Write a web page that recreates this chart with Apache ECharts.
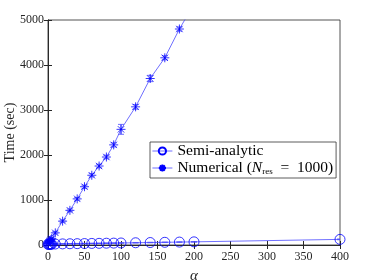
<!DOCTYPE html>
<html><head><meta charset="utf-8">
<script src="https://cdn.jsdelivr.net/npm/echarts@6/dist/echarts.min.js"></script>
<style>html,body{margin:0;padding:0;background:#fff}#c{width:374px;height:280px}</style>
</head><body><div id="c"></div>
<script>
const semiX = [0,1,2,3,4,5,10,20,30,40,50,60,70,80,90,100,120,140,160,180,200,400];
const semiY = [15,15,16,17,18,19,22,25,28,30,32,35,37,40,42,45,50,55,60,65,70,125];
const semiErr = [5,5,5,5,5,5,5,5,5,5,5,5,5,5,5,5,6,6,6,6,6,8];
const numX = [0,1,2,3,4,5,10,20,30,40,50,60,70,80,90,100,120,140,160,180,200];
const numY = [30,55,80,100,120,140,270,530,770,1025,1295,1550,1755,1955,2225,2570,3070,3700,4160,4800,5350];
const numErr = [15,15,15,15,15,20,25,25,30,30,35,35,40,40,45,110,50,70,45,45,50];
const xTicks = [0,50,100,150,200,250,300,350,400];
const yTicks = [0,1000,2000,3000,4000,5000];

const blue = '#0000ff';
const lineBlue = '#4a4aff';
const font = 'Liberation Serif';
const star = 'path://M0,-1L0,1M-1,0L1,0M-0.71,-0.71L0.71,0.71M-0.71,0.71L0.71,-0.71';

function errRender(params, api) {
  const x = api.value(0), y = api.value(1), e = api.value(2);
  const lo = api.coord([x, y - e]), hi = api.coord([x, y + e]);
  const w = 3;
  const st = {stroke: lineBlue, lineWidth: 0.8};
  return {type: 'group', children: [
    {type: 'line', shape: {x1: lo[0], y1: lo[1], x2: hi[0], y2: hi[1]}, style: st},
    {type: 'line', shape: {x1: lo[0]-w, y1: lo[1], x2: lo[0]+w, y2: lo[1]}, style: st},
    {type: 'line', shape: {x1: hi[0]-w, y1: hi[1], x2: hi[0]+w, y2: hi[1]}, style: st}
  ]};
}

const chart = echarts.init(document.getElementById('c'), null, {renderer: 'canvas'});
const axLabel = {fontFamily: font, fontSize: 12, color: '#262626', formatter: v => String(v)};
const axLine = {lineStyle: {color: '#262626', width: 0.8}};
chart.setOption({
  animation: false,
  textStyle: {fontFamily: font},
  grid: {left: 48, right: 34, top: 20, bottom: 35, containLabel: false, outerBoundsMode: 'none',
         show: true, borderColor: '#262626', borderWidth: 0.8},
  xAxis: [
    {type: 'value', min: 0, max: 400, interval: 50, axisLine: axLine,
     axisTick: {inside: true, length: 4, lineStyle: {color: '#262626'}},
     axisLabel: Object.assign({margin: 6}, axLabel), splitLine: {show: false},
     name: 'α', nameLocation: 'middle', nameGap: 24, nameMoveOverlap: false,
     nameTextStyle: {fontFamily: font, fontSize: 15, fontStyle: 'italic', color: '#262626'}},
    {type: 'value', position: 'top', min: 0, max: 400, interval: 50, axisLine: axLine,
     axisTick: {inside: true, length: 4, lineStyle: {color: '#262626'}},
     axisLabel: {show: false}, splitLine: {show: false}}
  ],
  yAxis: [
    {type: 'value', min: 0, max: 5000, interval: 1000, axisLine: Object.assign({show: true}, axLine),
     axisTick: {show: true, inside: true, length: 4, lineStyle: {color: '#262626'}},
     axisLabel: Object.assign({margin: 4}, axLabel), splitLine: {show: false},
     name: 'Time (sec)', nameLocation: 'middle', nameGap: 31, nameRotate: 90, nameMoveOverlap: false,
     nameTextStyle: {fontFamily: font, fontSize: 14, color: '#262626'}},
    {type: 'value', position: 'right', min: 0, max: 5000, interval: 1000, axisLine: Object.assign({show: true}, axLine),
     axisTick: {show: true, inside: true, length: 4, lineStyle: {color: '#262626'}},
     axisLabel: {show: false}, splitLine: {show: false}}
  ],
  legend: {
    left: 150, top: 142, orient: 'vertical', itemGap: 1, itemWidth: 20, itemHeight: 9,
    backgroundColor: '#fff', borderColor: '#333', borderWidth: 0.8, padding: [1, 3, 2, 2],
    lineStyle: {width: 0.8},
    data: ['Semi-analytic', 'Numerical'],
    textStyle: {fontFamily: font, fontSize: 15.5, color: '#000',
      rich: {i: {fontFamily: font, fontSize: 15.5, fontStyle: 'italic'},
             s: {fontFamily: font, fontSize: 9, padding: [7, 0, 0, 0]},
             n: {fontFamily: font, fontSize: 15.5}}},
    formatter: function (n) {
      if (n === 'Numerical') return '{n|Numerical (}{i|N}{s|res}{n|\u2002=\u20021000)}';
      return n;
    }
  },
  series: [
    {name: 'Semi-analytic', type: 'line', data: semiX.map((x, i) => [x, semiY[i]]),
     symbol: 'circle', symbolSize: 10, showAllSymbol: true,
     lineStyle: {color: lineBlue, width: 0.8},
     itemStyle: {color: 'rgba(0,0,0,0)', borderColor: blue, borderWidth: 0.8}},
    {name: 'Numerical', type: 'line', data: numX.map((x, i) => [x, numY[i]]),
     symbol: star, symbolSize: 9, showAllSymbol: true,
     lineStyle: {color: lineBlue, width: 0.8},
     itemStyle: {color: blue, borderColor: blue, borderWidth: 0.8}},
    {type: 'custom', renderItem: errRender, clip: true, z: 1,
     data: semiX.map((x, i) => [x, semiY[i], semiErr[i]])},
    {type: 'custom', renderItem: errRender, clip: true, z: 1,
     data: numX.map((x, i) => [x, numY[i], numErr[i]])}
  ]
});
</script></body></html>
